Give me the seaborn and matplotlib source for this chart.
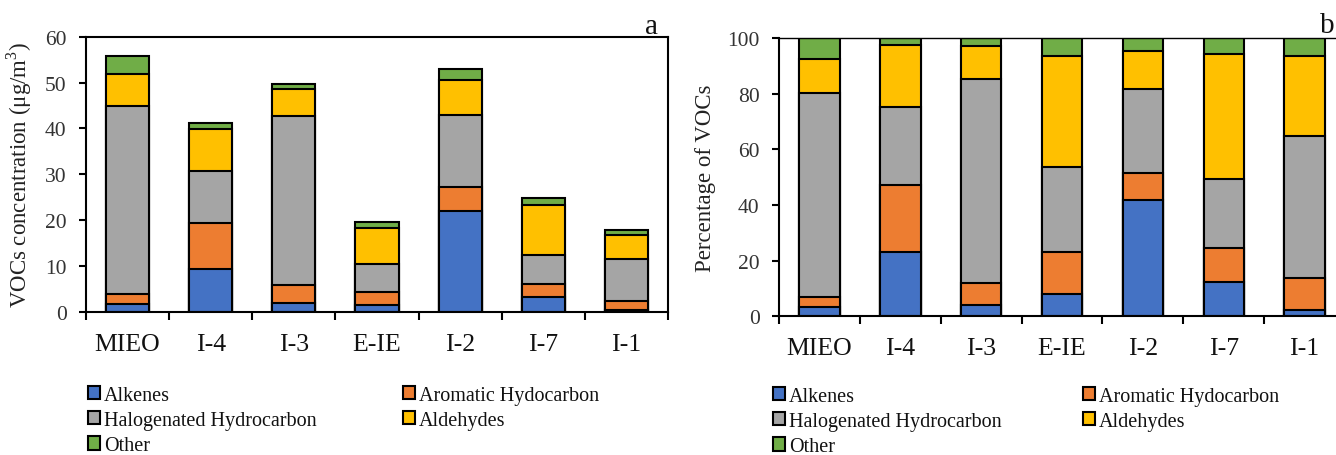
import numpy as np
import matplotlib
matplotlib.use("Agg")
import matplotlib.pyplot as plt
from matplotlib.patches import Patch
import seaborn as sns

# Sampling sites
categories = ["MIEO", "I-4", "I-3", "E-IE", "I-2", "I-7", "I-1"]

# (a) VOCs concentration, ug/m3
alkenes_conc = [1.6, 9.3, 2.0, 1.5, 21.9, 3.1, 0.3]
aromatic_conc = [2.3, 10.0, 3.8, 2.9, 5.4, 2.9, 2.0]
halogenated_conc = [40.9, 11.5, 37.0, 6.0, 15.7, 6.3, 9.1]
aldehydes_conc = [7.0, 9.1, 5.8, 7.9, 7.5, 10.9, 5.3]
other_conc = [3.9, 1.2, 1.1, 1.3, 2.4, 1.6, 1.1]

# (b) share of each group, %
alkenes_pct = [3.2, 23.2, 4.1, 8.0, 41.8, 12.2, 2.3]
aromatic_pct = [3.9, 24.1, 7.8, 15.1, 9.8, 12.4, 11.5]
halogenated_pct = [73.0, 27.8, 73.5, 30.7, 30.0, 24.7, 50.9]
aldehydes_pct = [12.5, 22.3, 11.6, 39.7, 13.6, 45.1, 28.8]
other_pct = [7.4, 2.6, 3.0, 6.5, 4.8, 5.6, 6.5]

group_names = ["Alkenes", "Aromatic Hydocarbon", "Halogenated Hydrocarbon",
               "Aldehydes", "Other"]
group_colors = ["#4472C4", "#ED7D31", "#A5A5A5", "#FFC000", "#70AD47"]

sns.set_theme(style="ticks")
plt.rcParams["font.family"] = ["Liberation Serif", "DejaVu Serif"]
plt.rcParams["mathtext.fontset"] = "custom"
plt.rcParams["mathtext.rm"] = "Liberation Serif"

fig = plt.figure(figsize=(13.36, 4.56), dpi=100)
ax_a = fig.add_axes([86 / 1336, (456 - 312.7) / 456, 582 / 1336, 275 / 456])
ax_b = fig.add_axes([779 / 1336, (456 - 317.3) / 456, 566 / 1336, 278.3 / 456])


def stacked(ax, layers, width):
    # draw cumulative totals from the top layer down so each segment shows
    cums = np.cumsum(np.array(layers, dtype=float), axis=0)
    for i in range(len(layers) - 1, -1, -1):
        sns.barplot(x=categories, y=cums[i], color=group_colors[i],
                    saturation=1, edgecolor="black", linewidth=1.5,
                    width=width, ax=ax)


def style_axes(ax, ymax, ystep, ylabel):
    ax.set_xlim(-0.5, len(categories) - 0.5)
    ax.set_ylim(0, ymax)
    ax.set_yticks(np.arange(0, ymax + 1, ystep))
    ax.tick_params(axis="y", labelsize=15.5, length=5, width=1.5,
                   pad=9, colors="black", labelcolor="#333333")
    ax.set_xticks(np.arange(-0.5, len(categories), 1))
    ax.set_xticklabels([""] * (len(categories) + 1))
    ax.set_xticks(np.arange(len(categories)), minor=True)
    ax.set_xticklabels(categories, minor=True)
    ax.tick_params(axis="x", which="major", length=6, width=1.5, colors="black")
    ax.tick_params(axis="x", which="minor", length=0, labelsize=18.5,
                   pad=15, labelcolor="#111111")
    ax.set_xlabel("")
    ax.set_ylabel(ylabel, fontsize=16.5, color="#222222", labelpad=8)
    for s in ax.spines.values():
        s.set_visible(True)
        s.set_linewidth(1.5)
        s.set_color("black")


stacked(ax_a, [alkenes_conc, aromatic_conc, halogenated_conc,
               aldehydes_conc, other_conc], 0.52)
style_axes(ax_a, 60, 10, r"VOCs concentration (μg/m$^3$)")

stacked(ax_b, [alkenes_pct, aromatic_pct, halogenated_pct,
               aldehydes_pct, other_pct], 0.5)
style_axes(ax_b, 100, 20, "Percentage of VOCs")
ax_b.spines["top"].set_linewidth(1.0)

fig.text(658 / 1336, (456 - 34) / 456, "a", fontsize=21, ha="right",
         va="baseline", color="#111111")
fig.text(1335 / 1336, (456 - 33) / 456, "b", fontsize=21, ha="right",
         va="baseline", color="#111111")


def legend_block(x_left, y_top, idx):
    handles = [Patch(facecolor=group_colors[i], edgecolor="black",
                     linewidth=1.5, label=group_names[i]) for i in idx]
    leg = fig.legend(handles=handles, loc="upper left",
                     bbox_to_anchor=(x_left / 1336, (456 - y_top) / 456),
                     frameon=False, fontsize=14.5, borderpad=0,
                     handlelength=0.62, handleheight=0.62,
                     handletextpad=0.18, labelspacing=0.3, borderaxespad=0)
    for t in leg.get_texts():
        t.set_color("#111111")
    return leg


legend_block(88, 387, [0, 2, 4])
legend_block(403, 387, [1, 3])
legend_block(773, 388, [0, 2, 4])
legend_block(1083, 388, [1, 3])

fig.savefig("out.png", dpi=100)
